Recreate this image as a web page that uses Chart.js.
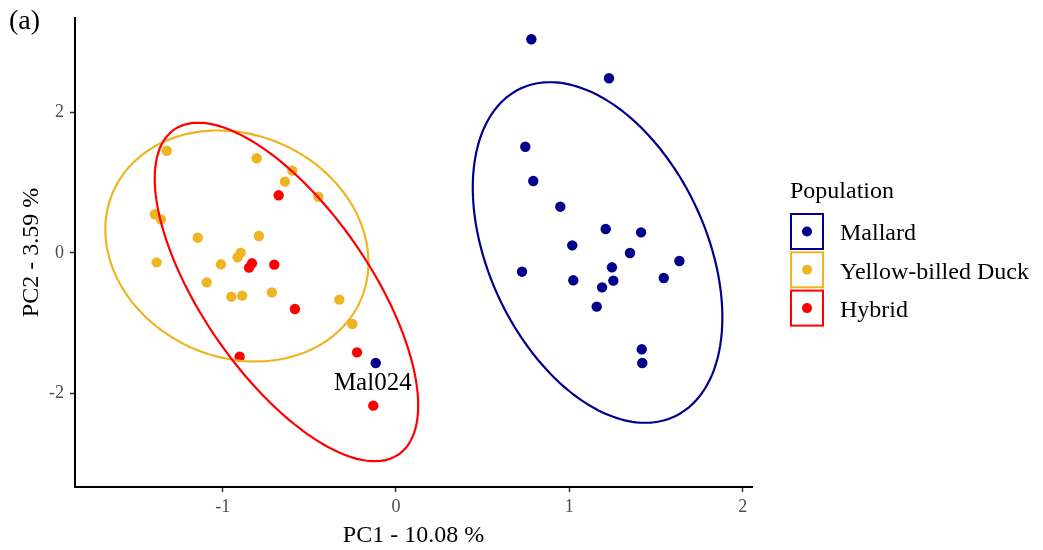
<!DOCTYPE html>
<html>
<head>
<meta charset="utf-8">
<script src="https://cdn.jsdelivr.net/npm/chart.js@4.4.1/dist/chart.umd.min.js"></script>
<style>
html, body { margin: 0; padding: 0; background: #fff; }
</style>
</head>
<body>
<canvas id="pcaChart" width="1043" height="550"></canvas>
<script>
var populations = ['Mallard', 'Yellow-billed Duck', 'Hybrid'];
var colours = ['#00008B', '#EEB422', '#FF0000'];

// PC scores
var mallardPC1 = [0.781, 1.229, 0.746, 0.792, 0.948, 1.210, 1.414, 1.017, 1.350, 1.635,
                  0.727, 1.246, 1.023, 1.254, 1.545, 1.189, 1.158, 1.418, 1.421, -0.117];
var mallardPC2 = [3.042, 2.487, 1.513, 1.025, 0.659, 0.342, 0.294, 0.109, 0.000, -0.114,
                  -0.266, -0.204, -0.389, -0.394, -0.356, -0.489, -0.764, -1.371, -1.566, -1.566];

var yellowPC1 = [-1.323, -0.804, -0.598, -0.641, -0.448, -1.391, -1.356, -1.144, -0.791, -1.381,
                 -1.010, -0.896, -0.914, -1.092, -0.950, -0.887, -0.716, -0.327, -0.252];
var yellowPC2 = [1.456, 1.348, 1.172, 1.015, 0.801, 0.551, 0.479, 0.218, 0.242, -0.133,
                 -0.161, 0.005, -0.062, -0.418, -0.622, -0.607, -0.560, -0.664, -1.011];

var hybridPC1 = [-0.677, -0.831, -0.848, -0.702, -0.583, -0.902, -0.225, -0.131];
var hybridPC2 = [0.821, -0.147, -0.209, -0.166, -0.797, -1.476, -1.414, -2.173];

// 95% ellipses: centre, half extent on each axis, cos of phase between them
var ellipseX = [1.163, -0.918, -0.632];
var ellipseY = [0.007, 0.100, -0.555];
var ellipseHalfX = [0.720, 0.759, 0.760];
var ellipseHalfY = [2.424, 1.644, 2.409];
var ellipseCos = [-0.381, -0.142, -0.670];

var xTicks = [-1, 0, 1, 2];
var yTicks = [-2, 0, 2];

var pointLabels = ['Mal024'];
var pointLabelX = [-0.134];
var pointLabelY = [-1.85];

var serif = '"Liberation Serif", "Times New Roman", serif';

function toPoints(xs, ys) {
    return xs.map(function (x, i) { return { x: x, y: ys[i] }; });
}

var pcs = [[mallardPC1, mallardPC2], [yellowPC1, yellowPC2], [hybridPC1, hybridPC2]];

var datasets = populations.map(function (name, i) {
    return {
        label: name,
        data: toPoints(pcs[i][0], pcs[i][1]),
        backgroundColor: colours[i],
        borderWidth: 0,
        pointRadius: 5.2,
        pointHoverRadius: 5.2
    };
});

var ellipsePlugin = {
    id: 'ellipses',
    afterDatasetsDraw: function (chart) {
        var ctx = chart.ctx;
        var xs = chart.scales.x, ys = chart.scales.y;
        ctx.save();
        ctx.beginPath();
        ctx.rect(chart.chartArea.left, chart.chartArea.top,
                 chart.chartArea.right - chart.chartArea.left,
                 chart.chartArea.bottom - chart.chartArea.top);
        ctx.clip();
        ctx.lineWidth = 2.2;
        for (var i = 0; i < ellipseX.length; i++) {
            var d = Math.acos(ellipseCos[i]);
            ctx.strokeStyle = colours[i];
            ctx.beginPath();
            for (var k = 0; k <= 200; k++) {
                var t = k / 200 * 2 * Math.PI;
                var px = xs.getPixelForValue(ellipseX[i] + ellipseHalfX[i] * Math.cos(t));
                var py = ys.getPixelForValue(ellipseY[i] + ellipseHalfY[i] * Math.cos(t - d));
                if (k === 0) ctx.moveTo(px, py); else ctx.lineTo(px, py);
            }
            ctx.closePath();
            ctx.stroke();
        }
        ctx.restore();

        // text labels
        ctx.save();
        ctx.fillStyle = '#000';
        ctx.font = '25px ' + serif;
        ctx.textAlign = 'center';
        ctx.textBaseline = 'middle';
        pointLabels.forEach(function (txt, j) {
            ctx.fillText(txt, xs.getPixelForValue(pointLabelX[j]), ys.getPixelForValue(pointLabelY[j]));
        });
        ctx.restore();
    }
};

var legendPlugin = {
    id: 'popLegend',
    afterDraw: function (chart) {
        var ctx = chart.ctx;
        ctx.save();
        ctx.fillStyle = '#000';
        ctx.textBaseline = 'middle';
        ctx.textAlign = 'left';
        ctx.font = '28px ' + serif;
        ctx.fillText('(a)', 9, 22);
        ctx.font = '24px ' + serif;
        ctx.fillText('Population', 790, 192);
        populations.forEach(function (name, i) {
            var top = 214 + i * 38.3;
            ctx.strokeStyle = colours[i];
            ctx.lineWidth = 2;
            ctx.strokeRect(791, top, 32, 35);
            ctx.fillStyle = colours[i];
            ctx.beginPath();
            ctx.arc(807, top + 17.5, 5, 0, 2 * Math.PI);
            ctx.fill();
            ctx.fillStyle = '#000';
            ctx.fillText(name, 840, top + 20);
        });
        ctx.restore();
    }
};

var tickFont = { family: serif, size: 18 };
var titleFont = { family: serif, size: 24 };

var options = {
    responsive: false,
    animation: false,
    layout: { padding: { left: 0, right: 291, top: 18, bottom: 0 } },
    plugins: { legend: { display: false }, tooltip: { enabled: false } },
    scales: {
        x: {
            type: 'linear',
            min: -1.852,
            max: 2.054,
            afterBuildTicks: function (scale) {
                scale.ticks = xTicks.map(function (v) { return { value: v }; });
            },
            afterFit: function (scale) { scale.height = 63; },
            ticks: { font: tickFont, color: '#4d4d4d', padding: 4 },
            grid: { drawOnChartArea: false, tickLength: 5, tickColor: '#333', tickWidth: 1.5 },
            border: { color: '#000', width: 2 },
            title: { display: true, text: 'PC1 - 10.08 %', font: titleFont, color: '#000', padding: { top: 0, bottom: 0 } }
        },
        y: {
            type: 'linear',
            min: -3.331,
            max: 3.345,
            afterBuildTicks: function (scale) {
                scale.ticks = yTicks.map(function (v) { return { value: v }; });
            },
            afterFit: function (scale) { scale.width = 75; },
            ticks: { font: tickFont, color: '#4d4d4d', padding: 6 },
            grid: { drawOnChartArea: false, tickLength: 5, tickColor: '#333', tickWidth: 1.5 },
            border: { color: '#000', width: 2 },
            title: { display: true, text: 'PC2 - 3.59 %', font: titleFont, color: '#000', padding: { top: 17, bottom: 0 } }
        }
    }
};

var ctx = document.getElementById('pcaChart').getContext('2d');
var pcaChart = new Chart(ctx, {
    type: 'scatter',
    data: { datasets: datasets },
    options: options,
    plugins: [ellipsePlugin, legendPlugin]
});
</script>
</body>
</html>
